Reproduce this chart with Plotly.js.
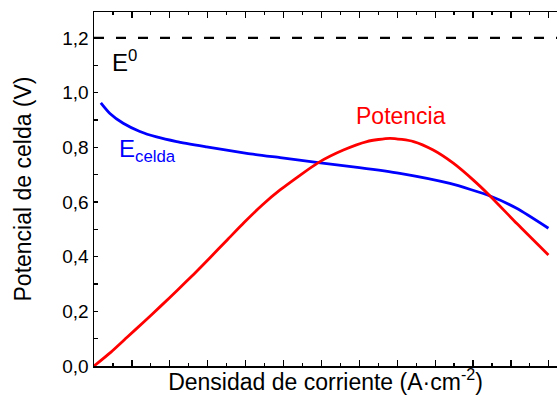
<!DOCTYPE html>
<html>
<head>
<meta charset="utf-8">
<script src="https://cdn.plot.ly/plotly-3.0.1.min.js"></script>
<style>html,body{margin:0;padding:0;background:#fff;}</style>
</head>
<body>
<div id="chart" style="width:558px;height:407px;"></div>
<script>
// Current density (arbitrary units, no tick labels in the original)
const eCeldaX = [0.018, 0.042, 0.077, 0.121, 0.165, 0.218, 0.297, 0.403, 0.491, 0.592, 0.700, 0.807, 0.939, 1.045, 1.115, 1.199];
const eCeldaY = [0.963, 0.924, 0.888, 0.858, 0.838, 0.821, 0.802, 0.778, 0.762, 0.744, 0.726, 0.705, 0.668, 0.622, 0.577, 0.504];

const potenciaX = [0, 0.044, 0.088, 0.132, 0.176, 0.220, 0.264, 0.308, 0.352, 0.396, 0.444, 0.491, 0.592, 0.658, 0.720, 0.781, 0.843, 0.895, 0.948, 1.001, 1.045, 1.115, 1.199];
const potenciaY = [0, 0.050, 0.106, 0.162, 0.219, 0.277, 0.337, 0.399, 0.462, 0.525, 0.589, 0.644, 0.744, 0.790, 0.821, 0.833, 0.821, 0.790, 0.742, 0.680, 0.622, 0.522, 0.406];

const e0X = [0, 1.23];
const e0Y = [1.2, 1.2];

const yTickVals = [0, 0.2, 0.4, 0.6, 0.8, 1.0, 1.2];
const yTickText = ['0,0', '0,2', '0,4', '0,6', '0,8', '1,0', '1,2'];

const font = 'Liberation Sans, Arial, sans-serif';

const traces = [
  {x: e0X, y: e0Y, mode: 'lines', line: {color: '#000', width: 2.2, dash: '10px,12px'}, hoverinfo: 'skip'},
  {x: eCeldaX, y: eCeldaY, mode: 'lines', line: {color: '#0000ff', width: 2.8, shape: 'spline', smoothing: 0.6}},
  {x: potenciaX, y: potenciaY, mode: 'lines', line: {color: '#ff0000', width: 2.8, shape: 'spline', smoothing: 0.6}}
];

const layout = {
  width: 558, height: 407,
  margin: {l: 94, r: 1, t: 12, b: 41},
  showlegend: false,
  paper_bgcolor: '#fff', plot_bgcolor: '#fff',
  font: {family: font, color: '#000', size: 18},
  xaxis: {
    range: [0, 1.2216], dtick: 0.1, tick0: 0,
    ticks: 'inside', ticklen: 6, tickwidth: 1.2, tickcolor: '#000',
    minor: {dtick: 0.05, ticks: 'inside', ticklen: 3, tickwidth: 1.2, tickcolor: '#000'},
    showticklabels: false, showgrid: false, zeroline: false,
    showline: true, linecolor: '#000', linewidth: 1.5, mirror: 'ticks',
    automargin: true,
    title: {text: 'Densidad de corriente (A·cm<sup>-2</sup>)', font: {size: 23, family: font}, standoff: 7}
  },
  yaxis: {
    range: [0, 1.295], tickvals: yTickVals, ticktext: yTickText,
    ticks: 'inside', ticklen: 4, tickwidth: 1.2, tickcolor: '#000',
    minor: {dtick: 0.1, ticks: 'inside', ticklen: 4, tickwidth: 1.2, tickcolor: '#000'},
    showgrid: false, zeroline: false,
    showline: true, linecolor: '#000', linewidth: 1.5,
    automargin: true,
    tickfont: {size: 19, family: font},
    title: {text: 'Potencial de celda (V)', font: {size: 23, family: font}, standoff: 24}
  },
  annotations: [
    {x: 0.043, y: 1.115, xref: 'x', yref: 'y', text: 'E<sup>0</sup>', showarrow: false, xanchor: 'left', font: {size: 24, color: '#000', family: font}},
    {x: 0.06, y: 0.79, xref: 'x', yref: 'y', text: 'E<sub>celda</sub>', showarrow: false, xanchor: 'left', font: {size: 24, color: '#0000ff', family: font}},
    {x: 0.81, y: 0.915, xref: 'x', yref: 'y', text: 'Potencia', showarrow: false, xanchor: 'center', font: {size: 23, color: '#ff0000', family: font}}
  ]
};

Plotly.newPlot('chart', traces, layout, {staticPlot: true, displayModeBar: false});
</script>
</body>
</html>
